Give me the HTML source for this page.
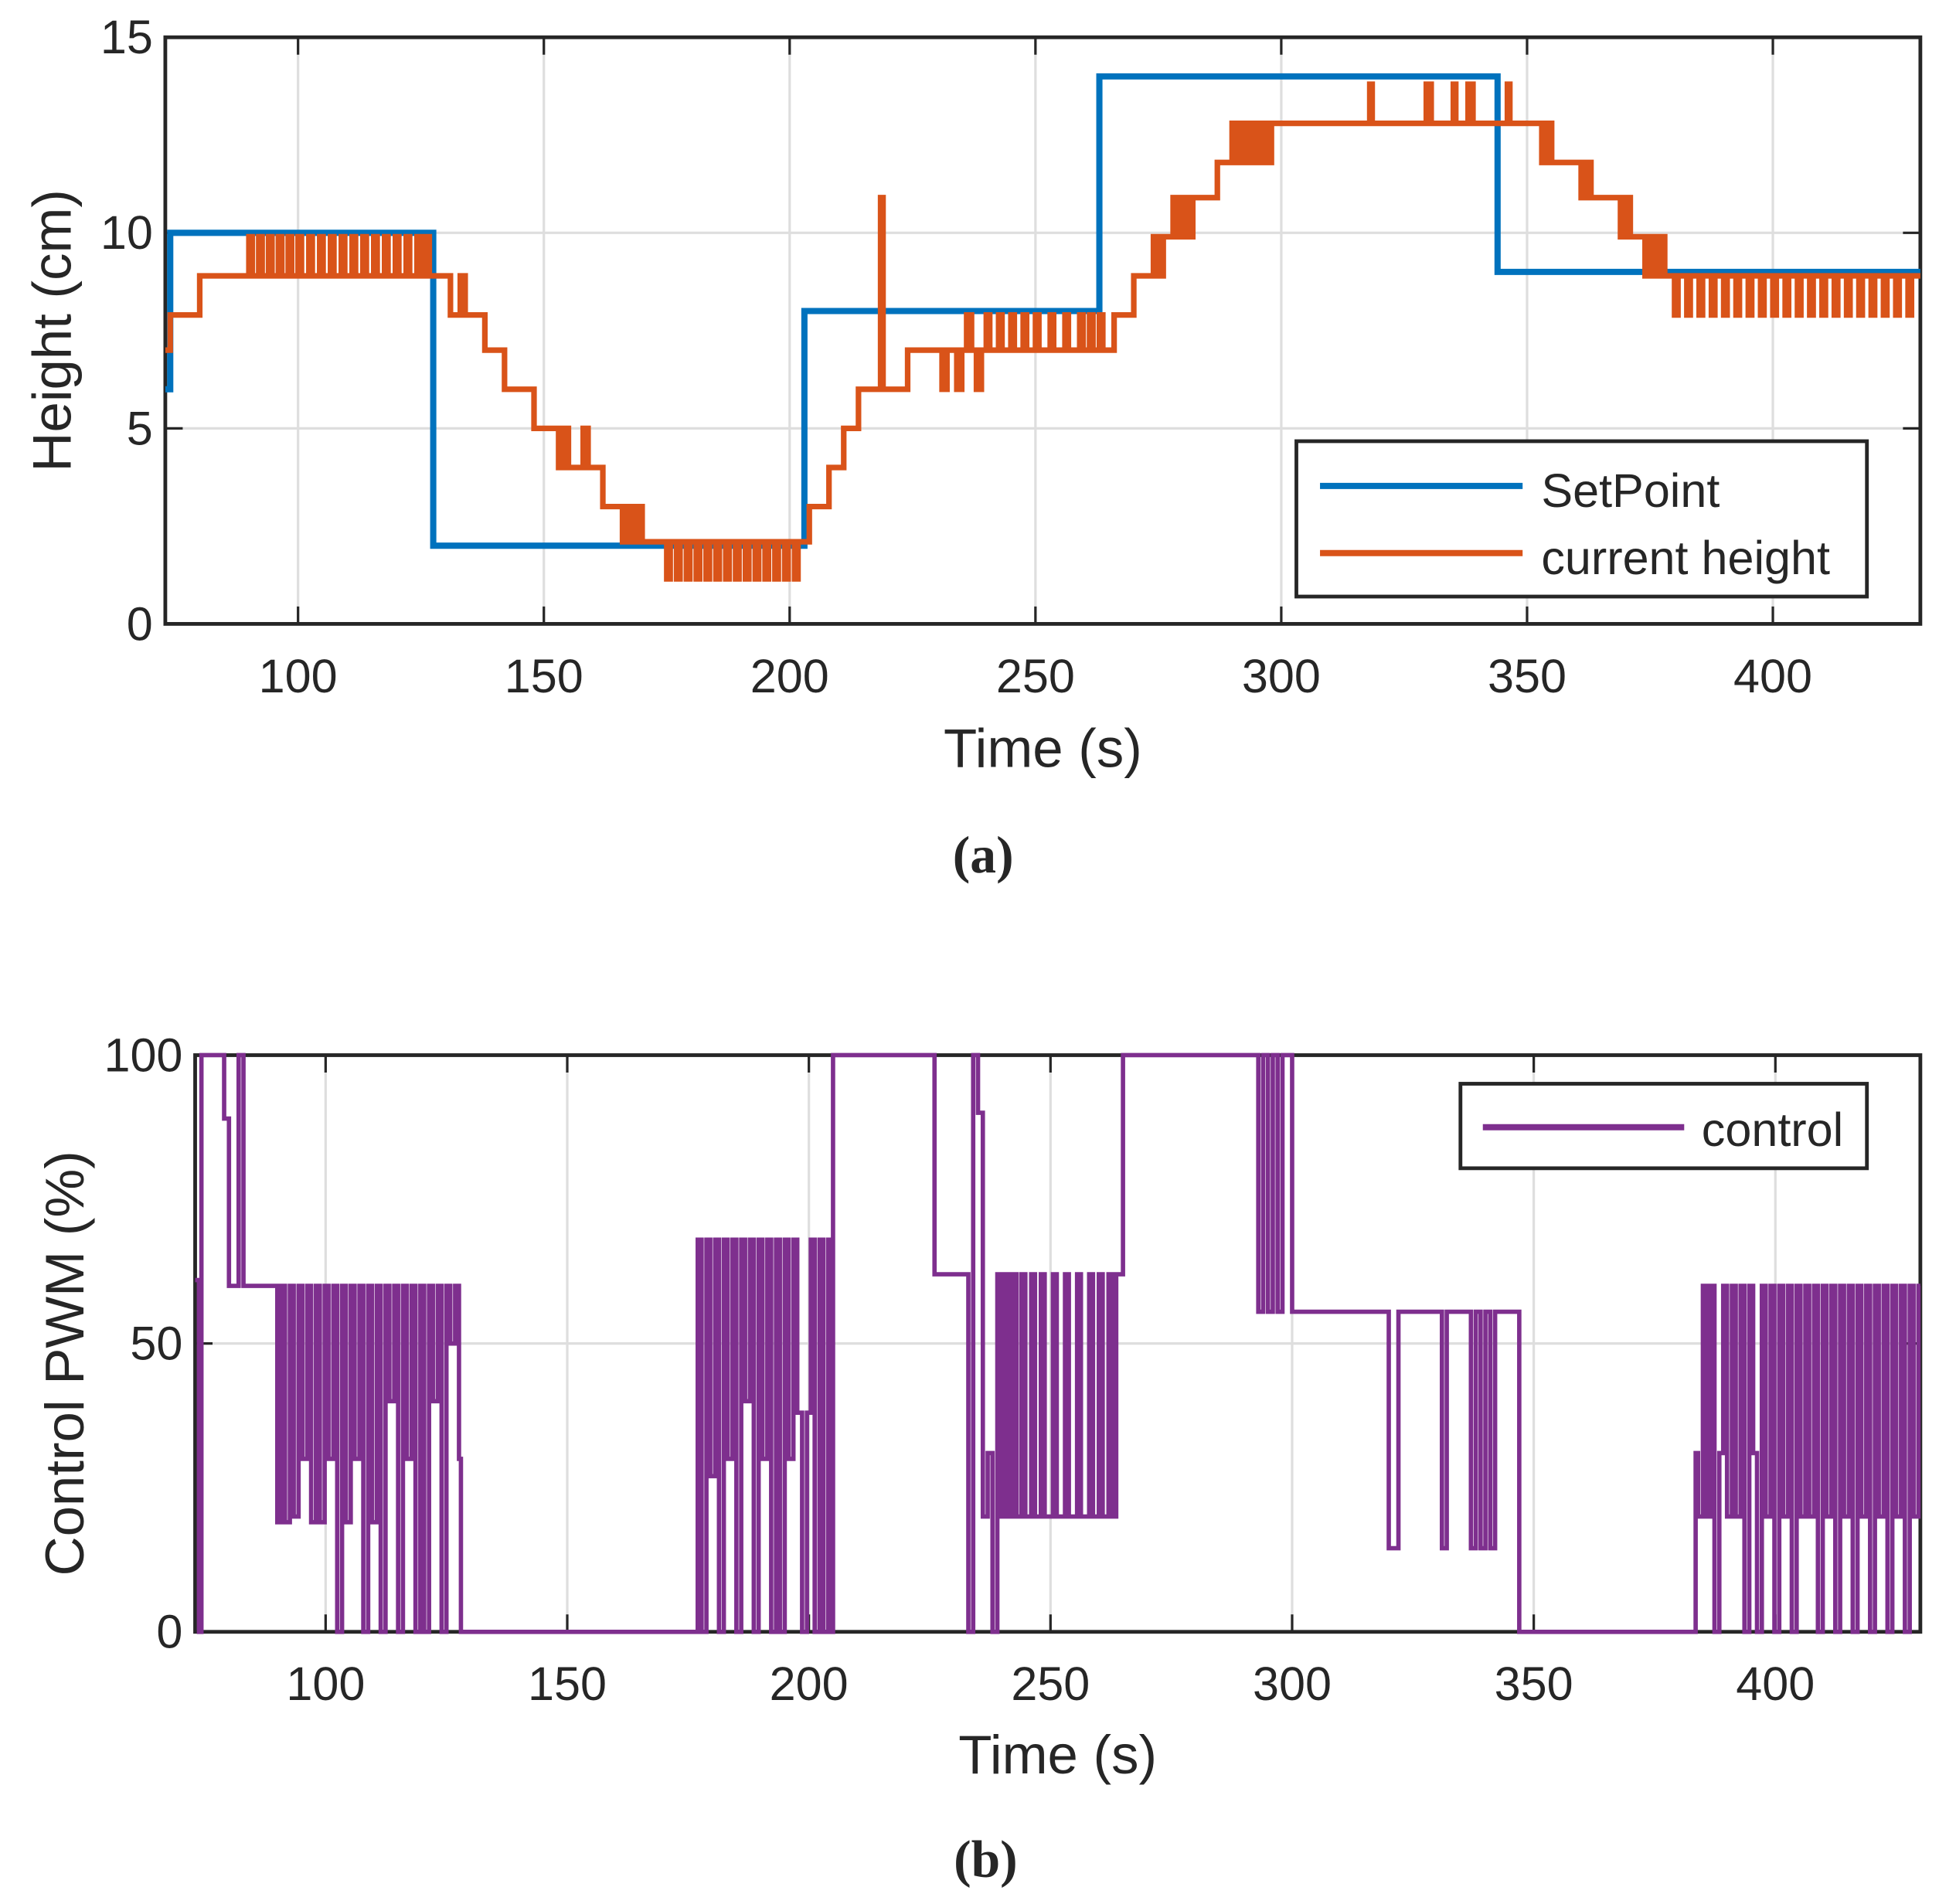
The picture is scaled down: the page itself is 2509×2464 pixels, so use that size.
<!DOCTYPE html>
<html><head><meta charset="utf-8"><style>
html,body{margin:0;padding:0;background:#fff;}
svg{display:block;}
text{font-family:"Liberation Sans",sans-serif;fill:#262626;}
</style></head><body>
<svg id="fig" width="2509" height="2464" viewBox="0 0 1560 1532" preserveAspectRatio="none" xmlns="http://www.w3.org/2000/svg">
<rect width="1560" height="1532" fill="#fff"/>
<g id="pa"></g>
<g id="pb"></g>
<text x="791" y="702" font-weight="bold" font-size="42" text-anchor="middle" style="font-family:'Liberation Serif',serif">(a)</text>
<text x="793" y="1510" font-weight="bold" font-size="42" text-anchor="middle" style="font-family:'Liberation Serif',serif">(b)</text>
</svg>
<script>
const xTicks=[100,150,200,250,300,350,400];
const yTicksA=[0,5,10,15];
const yTicksB=[0,50,100];
const spT=[73,74,127.5,203,263,344];
const spV=[6,10,2,8,14,9];
const hT=[73,74,80,
90,90.7,92,92.7,94,94.7,96,96.7,98,98.7,100,100.7,102.2,102.9,104.4,105.1,106.6,107.3,108.8,109.5,111,111.7,113.2,113.9,115.4,116.1,117.6,118.3,119.8,120.5,122,122.7,124.2,124.9,126,126.7,
131,133,134,138,142,148,153,154,155,158,159,162,166,167,168,169,170,172,
175,175.7,177,177.7,179,179.7,181,181.7,183,183.7,185,185.7,187,187.7,189,189.7,191,191.7,193,193.7,195,195.7,197,197.7,199,199.7,201,201.7,
204,208,211,214,218.5,219,224,231,232,234,235,236,237,238,239,
240,240.7,242.5,243.2,245,245.7,247.5,248.2,250,250.7,253,253.7,256,256.7,259,259.7,261,261.7,263,263.7,
266,270,274,275,276,278,279,280,281,282,287,290,291,292,293,294,295,296,297,298,
318,318.5,329.5,330.5,335,335.5,338,339,346,346.5,353,354,355,361,362,363,369,370,371,374,375,376,377,378,
380,380.7,382.5,383.2,385,385.7,387.5,388.2,390,390.7,392.5,393.2,395,395.7,397.5,398.2,400,400.7,402.5,403.2,405,405.7,407.5,408.2,410,410.7,412.5,413.2,415,415.7,417.5,418.2,420,420.7,422.5,423.2,425,425.7,427.5,428.2];
const hV=[7.0,7.9,8.9,
9.9,8.9,9.9,8.9,9.9,8.9,9.9,8.9,9.9,8.9,9.9,8.9,9.9,8.9,9.9,8.9,9.9,8.9,9.9,8.9,9.9,8.9,9.9,8.9,9.9,8.9,9.9,8.9,9.9,8.9,9.9,8.9,9.9,8.9,9.9,8.9,
7.9,8.9,7.9,7.0,6.0,5.0,4.0,5.0,4.0,5.0,4.0,3.0,2.1,3.0,2.1,3.0,2.1,2.1,
1.15,2.1,1.15,2.1,1.15,2.1,1.15,2.1,1.15,2.1,1.15,2.1,1.15,2.1,1.15,2.1,1.15,2.1,1.15,2.1,1.15,2.1,1.15,2.1,1.15,2.1,1.15,2.1,
3.0,4.0,5.0,6.0,10.9,6.0,7.0,6.0,7.0,6.0,7.0,7.9,7.0,6.0,7.0,
7.9,7.0,7.9,7.0,7.9,7.0,7.9,7.0,7.9,7.0,7.9,7.0,7.9,7.0,7.9,7.0,7.9,7.0,7.9,7.0,
7.9,8.9,9.9,8.9,9.9,10.9,9.9,10.9,9.9,10.9,11.8,12.8,11.8,12.8,11.8,12.8,11.8,12.8,11.8,12.8,
13.8,12.8,13.8,12.8,13.8,12.8,13.8,12.8,13.8,12.8,11.8,12.8,11.8,10.9,11.8,10.9,9.9,10.9,9.9,8.9,9.9,8.9,9.9,8.9,
7.9,8.9,7.9,8.9,7.9,8.9,7.9,8.9,7.9,8.9,7.9,8.9,7.9,8.9,7.9,8.9,7.9,8.9,7.9,8.9,7.9,8.9,7.9,8.9,7.9,8.9,7.9,8.9,7.9,8.9,7.9,8.9,7.9,8.9,7.9,8.9,7.9,8.9,7.9,8.9];
const cT=[73,73.8,74.3,78,79,80,82,83,
90,90.8,91.6,92.6,93.4,94.4,95.2,96.2,97,98,98.8,99.8,100.6,101.6,102.4,103.4,104.2,105.2,106,107,107.8,108.8,109.6,110.6,111.4,112.4,113.2,114.2,115,116,116.8,117.8,118.6,119.6,120.4,121.4,122.2,123.2,124,125,125.8,126.8,127.6,128,
177,177.8,178.8,179.6,180.6,181.4,182.4,183.2,184.2,185,186,186.8,187.8,188.6,189.6,190.4,191.4,192.2,193.2,194,195,195.8,196.8,197.6,198.6,199.6,200.4,201.2,202.2,203,204,204.6,205,
225,226,233,234,235,236,237,238,239,239.8,240.6,241.4,242.2,243,244,244.8,246,246.8,248,248.8,250.5,251.3,253,253.8,255.5,256.3,258,258.8,260,260.8,262,262.8,263.6,265,
292,293,294,295,296,297,298,300,320,322,331,332,337,338,339,340,341,342,347,
383.5,384,385,385.8,386.6,387.4,388.4,389.2,390,391,391.8,392.8,393.6,394.6,395.4,396.2,397.2,398,399,399.8,400.8,401.6,402.6,403.4,404.4,405.2,406.2,407,408,408.8,409.8,410.6,411.6,412.4,413.4,414.2,415.2,416,417,417.8,418.8,419.6,420.6,421.4,422.4,423.2,424.2,425,426,426.8,427.8,428.6,429.6];
const cV=[61,0,100,100,89,60,100,60,
19,60,19,60,20,60,30,60,19,60,19,60,30,60,0,60,19,60,30,60,0,60,19,60,0,60,40,60,0,60,30,60,0,60,0,60,40,60,0,60,50,60,30,0,
68,0,68,27,68,0,68,30,68,0,68,40,68,0,68,30,68,0,68,0,68,30,68,38,0,38,68,0,68,0,68,0,100,
100,62,0,100,90,20,31,0,62,20,62,20,62,20,62,20,62,20,62,20,62,20,62,20,62,20,62,20,62,20,62,20,62,100,
100,55.5,100,55.5,100,55.5,100,55.5,14.5,55.5,14.5,55.5,14.5,55.5,14.5,55.5,14.5,55.5,0,
31,20,60,20,60,0,31,60,20,60,20,60,0,60,31,0,60,20,60,0,60,20,60,0,60,20,60,20,60,0,60,20,60,0,60,20,60,0,60,20,60,0,60,20,60,0,60,20,60,0,60,20,60];

const NS="http://www.w3.org/2000/svg";
function mk(p,tag,at){const e=document.createElementNS(NS,tag);for(const k in at)e.setAttribute(k,at[k]);p.appendChild(e);return e;}
function stairs(T,V,x,y,xEnd){let d="M"+x(T[0])+","+y(V[0]);for(let i=1;i<T.length;i++){d+=" H"+x(T[i])+" V"+y(V[i]);}d+=" H"+x(xEnd);return d;}
const X0=73,X1=430;
function panel(g,L,R,Tp,B,ymax,yt,ylab,ylx,yly,xly){
  const x=t=>L+(t-X0)/(X1-X0)*(R-L);
  const y=v=>B-v/ymax*(B-Tp);
  xTicks.forEach(t=>{
    const gl=mk(g,"line",{x1:x(t),x2:x(t),y1:Tp,y2:B,stroke:"#dedede","stroke-width":2});
    
    mk(g,"line",{x1:x(t),x2:x(t),y1:B,y2:B-14,stroke:"#262626","stroke-width":2});
    mk(g,"line",{x1:x(t),x2:x(t),y1:Tp,y2:Tp+14,stroke:"#262626","stroke-width":2});
    const tx=mk(g,"text",{x:x(t),y:B+55,"font-size":38,"text-anchor":"middle"});tx.textContent=t;
    
  });
  yt.forEach(v=>{
    if(v>0&&v<ymax){const gl=mk(g,"line",{x1:L,x2:R,y1:y(v),y2:y(v),stroke:"#dedede","stroke-width":2});
    }
    mk(g,"line",{x1:L,x2:L+14,y1:y(v),y2:y(v),stroke:"#262626","stroke-width":2});
    mk(g,"line",{x1:R,x2:R-14,y1:y(v),y2:y(v),stroke:"#262626","stroke-width":2});
    const tx=mk(g,"text",{x:L-10,y:y(v)+13,"font-size":38,"text-anchor":"end"});tx.textContent=v;
    
  });
  mk(g,"rect",{x:L,y:Tp,width:R-L,height:B-Tp,fill:"none",stroke:"#262626","stroke-width":3});
  const yl=mk(g,"text",{x:0,y:0,"font-size":44,"text-anchor":"middle",transform:"translate("+ylx+","+yly+") rotate(-90)"});yl.textContent=ylab;
  
  const xl=mk(g,"text",{x:(L+R)/2,y:xly,"font-size":44,"text-anchor":"middle"});xl.textContent="Time (s)";
  
  return {x,y};
}
const ga=document.getElementById("pa");
const A=panel(ga,133,1545,30,502,15,yTicksA,"Height (cm)",57,266,617);
const sp=mk(ga,"path",{d:stairs(spT,spV,A.x,A.y,X1),fill:"none",stroke:"#0072BD","stroke-width":5});

const hl=mk(ga,"path",{d:stairs(hT,hV,A.x,A.y,X1),fill:"none",stroke:"#D95319","stroke-width":4.5});

const lga=mk(ga,"g",{});

mk(lga,"rect",{x:1043,y:355,width:459,height:125,fill:"#fff",stroke:"#262626","stroke-width":3});
mk(lga,"line",{x1:1062,x2:1225,y1:391,y2:391,stroke:"#0072BD","stroke-width":5});
mk(lga,"line",{x1:1062,x2:1225,y1:445,y2:445,stroke:"#D95319","stroke-width":5});
let t1=mk(lga,"text",{x:1240,y:408,"font-size":38});t1.textContent="SetPoint";

let t2=mk(lga,"text",{x:1240,y:462,"font-size":38});t2.textContent="current height";


const gb=document.getElementById("pb");
const Bp=panel(gb,157,1545,849,1313,100,yTicksB,"Control PWM (%)",67,1097,1427);
const cl=mk(gb,"path",{d:stairs(cT,cV,Bp.x,Bp.y,X1),fill:"none",stroke:"#7E2F8E","stroke-width":3.5});

const lgb=mk(gb,"g",{});

mk(lgb,"rect",{x:1175,y:872,width:327,height:68,fill:"#fff",stroke:"#262626","stroke-width":3});
mk(lgb,"line",{x1:1193,x2:1355,y1:907,y2:907,stroke:"#7E2F8E","stroke-width":5});
let t3=mk(lgb,"text",{x:1369,y:922,"font-size":38});t3.textContent="control";

</script>
</body></html>
